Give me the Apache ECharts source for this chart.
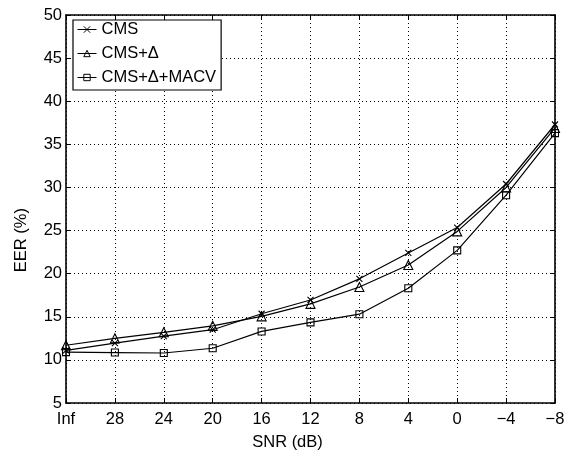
<!DOCTYPE html>
<html>
<head>
<meta charset="utf-8">
<script src="https://cdn.jsdelivr.net/npm/echarts@6/dist/echarts.min.js"></script>
<style>html,body{margin:0;padding:0;background:#fff}#c{width:573px;height:456px}</style>
</head>
<body>
<div id="c"></div>
<script>
var categories = ['Inf', '28', '24', '20', '16', '12', '8', '4', '0', '\u22124', '\u22128'];
var cms = [11.1, 11.95, 12.75, 13.5, 15.35, 16.95, 19.4, 22.4, 25.35, 30.4, 37.3];
var cmsDelta = [11.7, 12.5, 13.2, 13.95, 15.05, 16.5, 18.45, 21.0, 24.9, 30.0, 36.9];
var cmsDeltaMacv = [10.9, 10.85, 10.8, 11.35, 13.3, 14.35, 15.3, 18.3, 22.7, 29.1, 36.3];
var seriesNames = ['CMS', 'CMS+\u0394', 'CMS+\u0394+MACV'];
var xName = 'SNR (dB)';
var yName = 'EER (%)';

var FONT = '"Liberation Sans", Arial, Helvetica, sans-serif';
var chart = echarts.init(document.getElementById('c'));
var dotted = { color: '#000', width: 1, type: [1, 3] };
var axisLn = { color: '#000', width: 1.6 };

function mk(name, data, symbol, size) {
  return {
    name: name, type: 'line', data: data,
    symbol: symbol, symbolSize: size, showAllSymbol: true,
    lineStyle: { color: '#000', width: 1.2 },
    itemStyle: { color: 'transparent', borderColor: '#000', borderWidth: 1.1 },
    emphasis: { disabled: true },
    animation: false
  };
}

chart.setOption({
  backgroundColor: '#fff',
  animation: false,
  textStyle: { fontFamily: FONT, color: '#000' },
  grid: { left: 66, right: 18, top: 15, bottom: 48, containLabel: false },
  legend: {
    left: 73, top: 20, orient: 'vertical',
    backgroundColor: '#fff', borderColor: '#000', borderWidth: 1.2,
    padding: [1, 5, 4, 4], itemGap: 7, itemWidth: 19, itemHeight: 8,
    lineStyle: { width: 1, color: '#000' },
    itemStyle: { borderWidth: 1, borderColor: '#000', color: 'transparent' },
    textStyle: { fontFamily: FONT, fontSize: 16.5, color: '#000', lineHeight: 16 },
    data: seriesNames
  },
  xAxis: [{
    type: 'category', data: categories, boundaryGap: false, position: 'bottom',
    name: xName, nameLocation: 'middle', nameGap: 31,
    nameTextStyle: { fontFamily: FONT, fontSize: 16.5, color: '#000', padding: [0, 46, 0, 0] },
    axisLine: { lineStyle: axisLn },
    axisTick: { inside: true, length: 5, alignWithLabel: true, lineStyle: { color: '#000' } },
    axisLabel: { fontFamily: FONT, fontSize: 16.5, color: '#000', margin: 8 },
    splitLine: { show: true, lineStyle: dotted }
  }, {
    type: 'category', data: categories, boundaryGap: false, position: 'top',
    axisLine: { lineStyle: axisLn },
    axisTick: { inside: true, length: 5, lineStyle: { color: '#000' } },
    axisLabel: { show: false }, splitLine: { show: false }
  }],
  yAxis: [{
    type: 'value', min: 5, max: 50, interval: 5, position: 'left',
    axisLine: { show: true, lineStyle: axisLn },
    axisTick: { show: true, inside: true, length: 5, lineStyle: { color: '#000' } },
    axisLabel: { fontFamily: FONT, fontSize: 16.5, color: '#000', margin: 4 },
    splitLine: { show: true, lineStyle: dotted }
  }, {
    type: 'value', min: 5, max: 50, interval: 5, position: 'right',
    axisLine: { show: true, lineStyle: axisLn },
    axisTick: { show: true, inside: true, length: 5, lineStyle: { color: '#000' } },
    axisLabel: { show: false }, splitLine: { show: false }
  }],
  graphic: [{
    type: 'text', left: 13, top: 208, rotation: Math.PI / 2,
    style: { text: yName, font: '16.5px ' + FONT, fill: '#000' }
  }],
  series: [
    mk(seriesNames[0], cms, 'path://M0,0L10,10M10,0L0,10', 6),
    mk(seriesNames[1], cmsDelta, 'triangle', 9),
    mk(seriesNames[2], cmsDeltaMacv, 'rect', 7)
  ]
});
</script>
</body>
</html>
